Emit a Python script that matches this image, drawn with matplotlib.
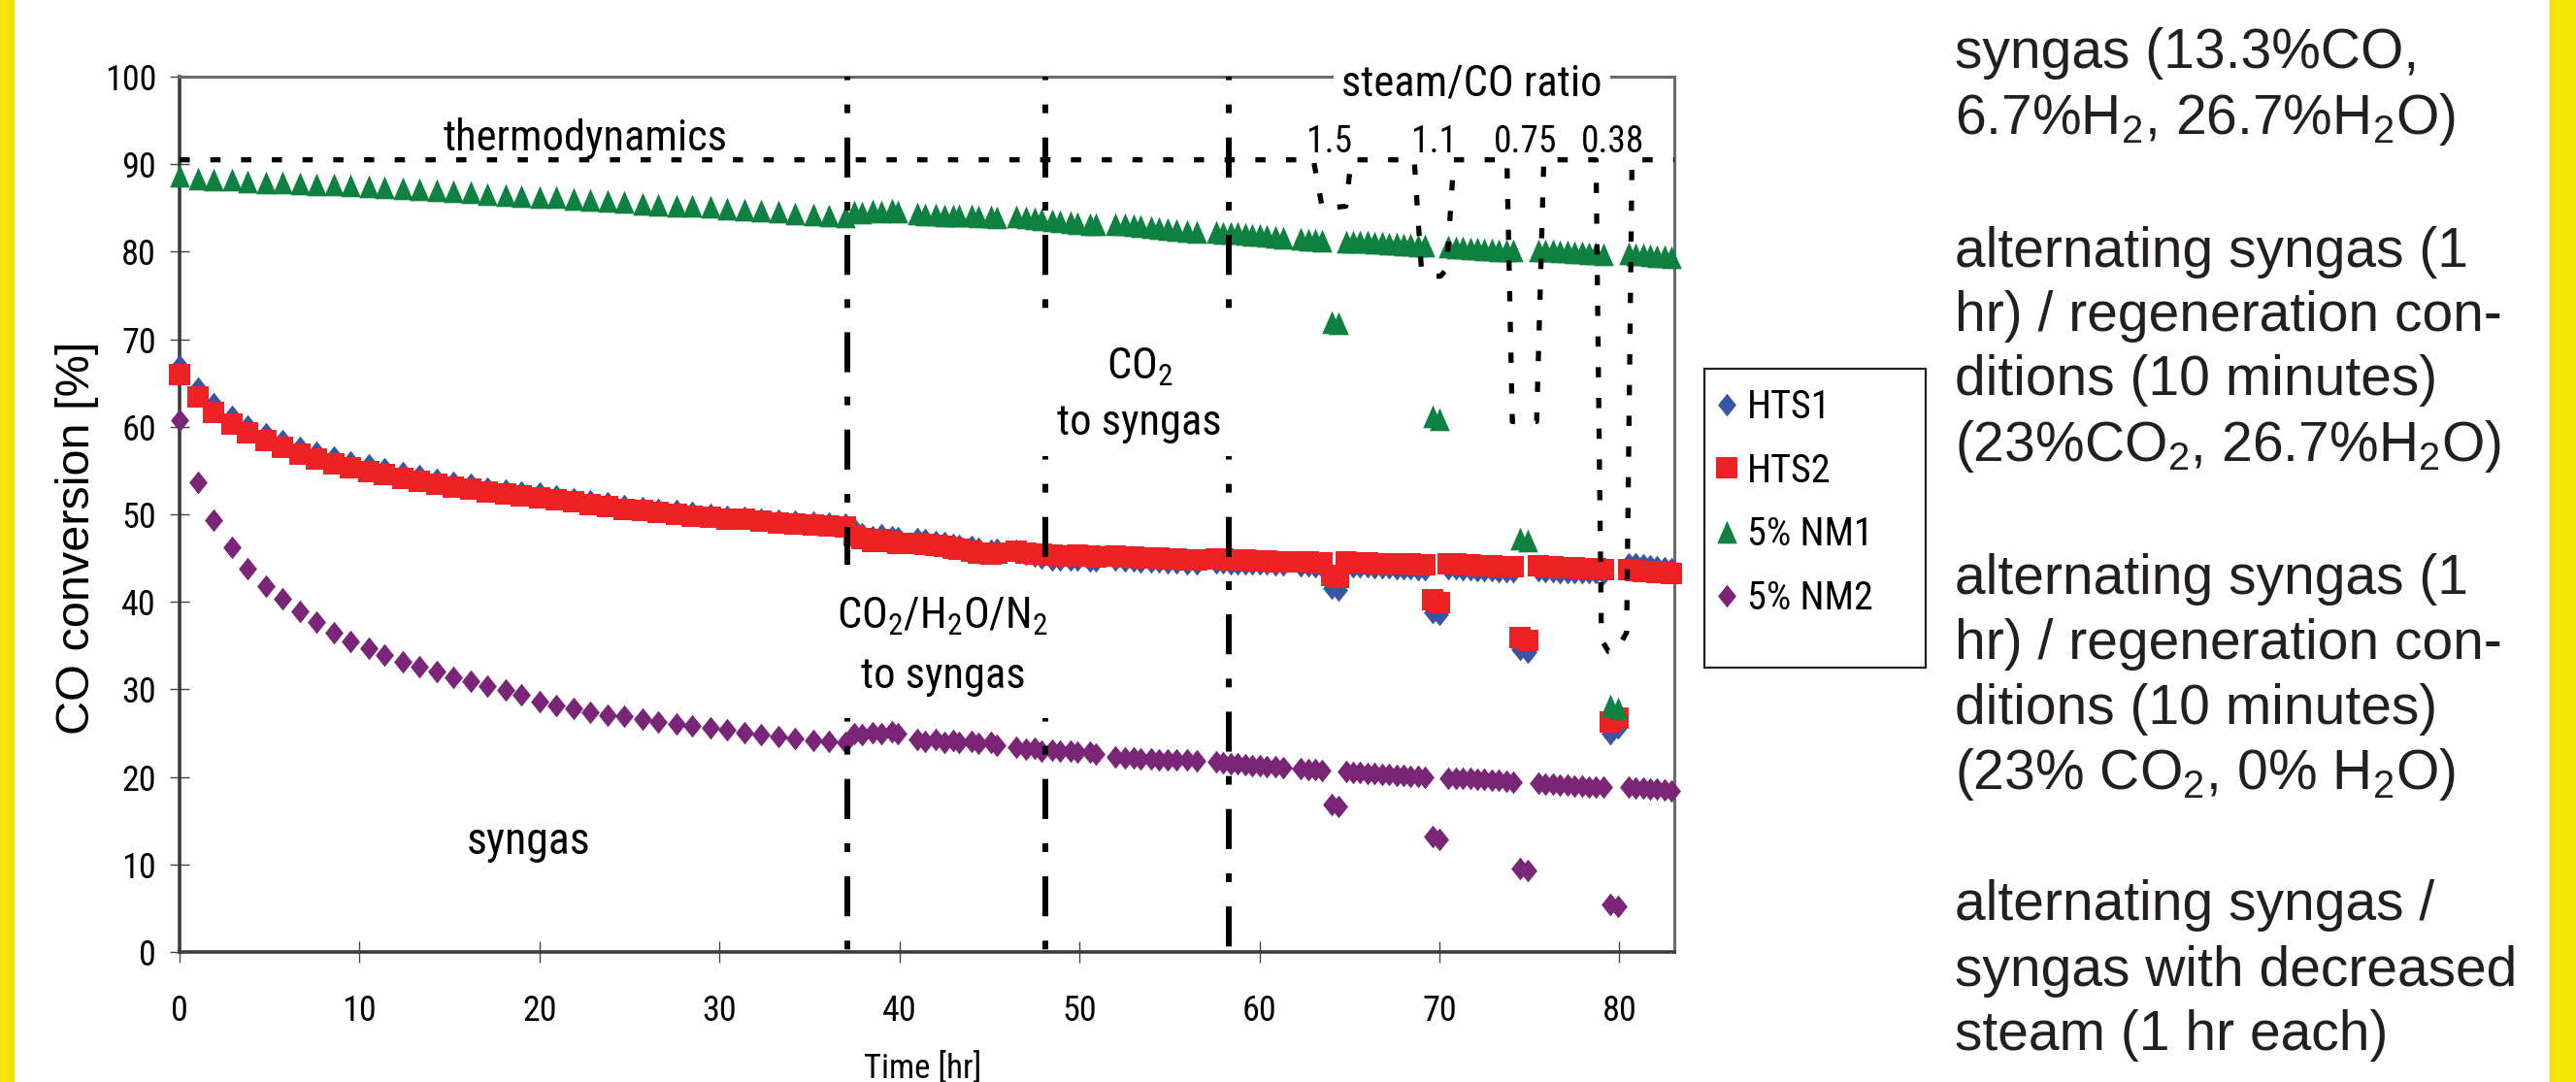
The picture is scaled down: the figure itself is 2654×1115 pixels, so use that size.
import matplotlib
matplotlib.use("Agg")
import matplotlib.pyplot as plt
from matplotlib import font_manager
from matplotlib.patches import Rectangle

W, H = 2654, 1115
YELLOW = "#F2E400"

_have = {f.name for f in font_manager.fontManager.ttflist}
NARROW = [f for f in ["Liberation Sans Narrow", "Arial Narrow", "Roboto Condensed",
                      "PT Sans Narrow", "Archivo Narrow"] if f in _have][:1] + ["DejaVu Sans"]

# ---- data ----
time_h = [
    0.0, 1.0, 1.9, 2.9, 3.8, 4.8, 5.7, 6.7, 7.6, 8.6, 9.5, 10.5, 11.4, 12.4, 13.3, 14.3,
    15.2, 16.2, 17.1, 18.1, 19.0, 20.0, 20.9, 21.9, 22.8, 23.8, 24.7, 25.7, 26.6, 27.6,
    28.5, 29.5, 30.4, 31.4, 32.3, 33.3, 34.2, 35.2, 36.1, 37.0,
    37.5, 37.9, 38.5, 39.0, 39.6, 39.9,
    41.0, 41.4, 42.0, 42.5, 43.0, 43.3, 44.0, 44.4, 45.1, 45.4,
    46.5, 47.0, 47.5, 47.9, 48.5, 48.9, 49.5, 49.9, 50.6, 50.9,
    52.0, 52.5, 53.0, 53.4, 54.0, 54.4, 54.9, 55.4, 56.0, 56.5,
    57.6, 58.0, 58.4, 58.8, 59.2, 59.6, 60.0, 60.4, 60.9, 61.3,
    62.3, 62.7, 63.1, 63.5,
    64.8, 65.2, 65.6, 66.0, 66.4, 66.8, 67.2, 67.6, 68.0, 68.4, 68.8, 69.2,
    70.5, 70.9, 71.3, 71.7, 72.1, 72.5, 72.9, 73.3, 73.7, 74.1,
    75.5, 75.9, 76.3, 76.7, 77.1, 77.5, 77.9, 78.3, 78.7, 79.1,
    80.5, 80.9, 81.3, 81.7, 82.1, 82.5, 82.9,
]

hts1 = [
    67.0, 64.4, 62.6, 61.2, 60.1, 59.2, 58.4, 57.7, 57.1, 56.5, 56.0, 55.6, 55.2, 54.8, 54.4, 54.0,
    53.7, 53.4, 53.0, 52.8, 52.6, 52.4, 52.1, 51.8, 51.5, 51.3, 51.0, 50.8, 50.6, 50.4,
    50.2, 50.0, 49.8, 49.7, 49.5, 49.3, 49.2, 49.1, 49.0, 48.9,
    48.3, 47.8, 47.5, 47.7, 47.5, 47.3,
    47.2, 47.1, 46.9, 46.8, 46.6, 46.5, 46.3, 46.1, 45.9, 46.0,
    45.9, 45.5, 45.2, 45.0, 44.8, 44.8, 44.8, 44.8, 44.7, 44.7,
    44.8, 44.7, 44.7, 44.6, 44.6, 44.6, 44.5, 44.5, 44.4, 44.4,
    44.5, 44.5, 44.4, 44.4, 44.4, 44.3, 44.3, 44.3, 44.2, 44.2,
    44.1, 44.1, 44.0, 44.0,
    44.1, 44.0, 44.0, 44.0, 43.9, 43.9, 43.9, 43.8, 43.8, 43.8, 43.7, 43.7,
    43.8, 43.8, 43.7, 43.7, 43.6, 43.6, 43.6, 43.5, 43.5, 43.5,
    43.6, 43.5, 43.5, 43.4, 43.4, 43.4, 43.3, 43.3, 43.3, 43.2,
    44.4, 44.3, 44.2, 44.1, 44.0, 43.9, 43.8,
]

hts2 = [
    66.0, 63.4, 61.6, 60.3, 59.3, 58.4, 57.7, 56.9, 56.3, 55.8, 55.3, 54.9, 54.5, 54.1, 53.8, 53.4,
    53.1, 52.9, 52.5, 52.3, 52.1, 51.9, 51.7, 51.4, 51.1, 50.9, 50.6, 50.4, 50.2, 50.0,
    49.8, 49.7, 49.5, 49.4, 49.2, 49.0, 48.9, 48.8, 48.7, 48.6,
    47.6, 47.2, 46.9, 47.1, 46.9, 46.7,
    46.7, 46.6, 46.4, 46.3, 46.1, 46.0, 45.8, 45.6, 45.4, 45.6,
    45.8, 45.6, 45.5, 45.4, 45.3, 45.2, 45.2, 45.3, 45.2, 45.1,
    45.2, 45.1, 45.1, 45.0, 45.0, 45.0, 44.9, 44.9, 44.8, 44.8,
    44.9, 44.9, 44.8, 44.8, 44.8, 44.7, 44.7, 44.7, 44.6, 44.6,
    44.6, 44.6, 44.5, 44.5,
    44.6, 44.5, 44.5, 44.5, 44.4, 44.4, 44.4, 44.3, 44.3, 44.3, 44.2, 44.2,
    44.3, 44.3, 44.2, 44.2, 44.1, 44.1, 44.1, 44.0, 44.0, 44.0,
    44.1, 44.0, 44.0, 43.9, 43.9, 43.9, 43.8, 43.8, 43.8, 43.7,
    43.7, 43.6, 43.5, 43.5, 43.4, 43.3, 43.2,
]

nm1 = [
    88.7, 88.4, 88.3, 88.2, 88.0, 87.9, 87.9, 87.8, 87.7, 87.7, 87.6, 87.5, 87.4, 87.3, 87.1, 87.0,
    86.9, 86.8, 86.6, 86.5, 86.4, 86.3, 86.2, 86.0, 85.9, 85.8, 85.7, 85.5, 85.4, 85.3,
    85.2, 85.1, 84.9, 84.8, 84.7, 84.6, 84.4, 84.3, 84.2, 84.0,
    84.6, 84.5, 84.7, 84.6, 84.8, 84.6,
    84.4, 84.3, 84.3, 84.2, 84.2, 84.1, 84.1, 84.0, 84.0, 83.9,
    84.0, 83.9, 83.8, 83.7, 83.6, 83.5, 83.4, 83.3, 83.2, 83.1,
    83.2, 83.1, 83.0, 82.9, 82.8, 82.7, 82.6, 82.5, 82.4, 82.3,
    82.3, 82.2, 82.2, 82.1, 82.0, 81.9, 81.9, 81.8, 81.7, 81.6,
    81.5, 81.4, 81.4, 81.3,
    81.2, 81.2, 81.1, 81.1, 81.0, 81.0, 80.9, 80.9, 80.8, 80.8, 80.7, 80.7,
    80.6, 80.5, 80.5, 80.4, 80.4, 80.3, 80.3, 80.2, 80.2, 80.1,
    80.2, 80.1, 80.1, 80.0, 80.0, 79.9, 79.9, 79.8, 79.8, 79.7,
    79.8, 79.7, 79.7, 79.6, 79.5, 79.5, 79.4,
]

nm2 = [
    60.7, 53.7, 49.3, 46.2, 43.8, 41.8, 40.3, 38.9, 37.7, 36.5, 35.5, 34.7, 33.9, 33.2, 32.6, 32.0,
    31.4, 30.9, 30.4, 29.9, 29.4, 28.6, 28.2, 27.8, 27.4, 27.1, 26.9, 26.6, 26.3, 26.0,
    25.8, 25.6, 25.4, 25.1, 24.8, 24.6, 24.4, 24.2, 24.1, 24.0,
    25.0, 24.8, 25.1, 24.9, 25.2, 25.0,
    24.3, 24.1, 24.3, 24.0, 24.2, 23.9, 24.1, 23.8, 23.9, 23.6,
    23.4, 23.2, 23.3, 23.0, 23.1, 22.9, 23.0, 22.8, 22.8, 22.6,
    22.3, 22.2, 22.2, 22.1, 22.1, 22.0, 22.0, 21.9, 21.9, 21.8,
    21.7, 21.6, 21.5, 21.5, 21.4, 21.3, 21.3, 21.2, 21.2, 21.1,
    20.9, 20.8, 20.8, 20.7,
    20.6, 20.5, 20.5, 20.4, 20.4, 20.3, 20.3, 20.2, 20.2, 20.1, 20.1, 20.0,
    19.9, 19.9, 19.8, 19.8, 19.7, 19.7, 19.6, 19.6, 19.5, 19.4,
    19.3, 19.2, 19.2, 19.1, 19.1, 19.0, 19.0, 18.9, 18.9, 18.8,
    18.8, 18.7, 18.7, 18.6, 18.6, 18.5, 18.4,
]

# low points during the decreased-steam hours
time_low = [64.0, 64.4, 69.6, 70.0, 74.5, 74.9, 79.5, 79.9]
hts1_low = [41.6, 41.3, 38.8, 38.6, 34.6, 34.3, 25.0, 25.6]
hts2_low = [43.0, 42.8, 40.2, 39.9, 35.9, 35.6, 26.3, 26.7]
nm1_low = [72.0, 71.8, 61.2, 60.9, 47.2, 47.0, 28.2, 27.8]
nm2_low = [16.8, 16.6, 13.2, 12.9, 9.5, 9.3, 5.4, 5.2]

series_names = ["HTS1", "HTS2", "5% NM1", "5% NM2"]
series_colors = ["#3A55A4", "#EE2224", "#0E8040", "#7B2579"]

# thermodynamic limit (dotted), with dips for each steam/CO ratio
thermo_x = [0, 63.0, 63.5, 64.8, 65.1, 68.6, 69.0, 69.4, 70.05, 70.4, 70.8,
            73.75, 74.05, 75.4, 75.8, 78.7, 79.0, 79.4, 79.8, 80.4, 80.7, 83.05]
thermo_y = [90.5, 90.5, 84.9, 85.2, 90.5, 90.5, 78.0, 77.2, 77.2, 78.0, 90.5,
            90.5, 60.6, 60.6, 90.5, 90.5, 35.7, 34.3, 34.3, 36.5, 90.5, 90.5]
ratio_labels = ["1.5", "1.1", "0.75", "0.38"]
ratio_x = [63.9, 69.7, 74.8, 79.65]

# phase boundaries (dash-dot), with the spans where they are drawn
phase_x = [37.1, 48.1, 58.3]
phase_spans = [[(26.7, 0), (100, 44.2)],
               [(26.7, 0), (56.7, 44.5), (100, 71.0)],
               [(56.7, 0), (100, 71.0)]]

notes = [
    ("syngas (13.3%CO,", 70),
    ("6.7%H$_\\mathregular{2}$, 26.7%H$_\\mathregular{2}$O)", 138),
    ("alternating syngas (1", 275),
    ("hr) / regeneration con-", 341),
    ("ditions (10 minutes)", 407),
    ("(23%CO$_\\mathregular{2}$, 26.7%H$_\\mathregular{2}$O)", 475),
    ("alternating syngas (1", 612),
    ("hr) / regeneration con-", 679),
    ("ditions (10 minutes)", 746),
    ("(23% CO$_\\mathregular{2}$, 0% H$_\\mathregular{2}$O)", 813),
    ("alternating syngas /", 948),
    ("syngas with decreased", 1016),
    ("steam (1 hr each)", 1082),
]

# ---- figure ----
fig = plt.figure(figsize=(W / 100, H / 100), dpi=100)
fig.patches.append(Rectangle((0, 0), 14 / W, 1, transform=fig.transFigure,
                             color=YELLOW, zorder=-2))
fig.patches.append(Rectangle((2627 / W, 0), 1, 1, transform=fig.transFigure,
                             color=YELLOW, zorder=-2))

ax = fig.add_axes([185 / W, 1 - 981 / H, (1725 - 185) / W, (981 - 79) / H])

diamond = [(0, 1), (0.8, 0), (0, -1), (-0.8, 0), (0, 1)]
triangle = [(0, 1), (0.87, -1), (-0.87, -1), (0, 1)]
markers = [diamond, "s", triangle, diamond]
sizes = [17, 15.5, 17, 17]
values = [hts1 + hts1_low, hts2 + hts2_low, nm1 + nm1_low, nm2 + nm2_low]

handles = []
for name, col, mk, ms, vals in zip(series_names, series_colors, markers, sizes, values):
    h, = ax.plot(time_h + time_low, vals, linestyle="none", marker=mk, ms=ms,
                 color=col, mew=0, label=name, zorder=3, clip_on=False)
    handles.append(h)

ax.plot(thermo_x, thermo_y, color="black", lw=3.8,
        linestyle=(0, (2.0, 4.0)), dash_capstyle="butt", zorder=4, clip_on=False)

for x, spans in zip(phase_x, phase_spans):
    for y_top, y_bot in spans:
        ax.plot([x, x], [y_top, y_bot], color="black", lw=4.3,
                linestyle=(6.3, (6.9, 4.2, 1.5, 4.2)), dash_capstyle="butt",
                zorder=4, clip_on=False)

ax.set_xlim(0, 83.05)
ax.set_ylim(0, 100)
ax.set_xticks(range(0, 81, 10))
ax.set_yticks(range(0, 101, 10))

for side in ["left", "bottom"]:
    ax.spines[side].set_linewidth(2.6)
    ax.spines[side].set_color("#3c3c3c")
for side in ["top", "right"]:
    ax.spines[side].set_linewidth(2.2)
    ax.spines[side].set_color("#6a6a6a")

ax.tick_params(axis="y", direction="inout", length=14.5, width=1.0, color="#444444",
               pad=10, labelsize=26)
ax.tick_params(axis="x", direction="inout", length=16, width=1.0, color="#444444",
               pad=23, labelsize=26)
for lab in ax.get_xticklabels() + ax.get_yticklabels():
    lab.set_family(NARROW)

ax.set_xlabel("Time [hr]", family=NARROW, fontsize=25)
ax.xaxis.set_label_coords(0.497, -0.114)
ax.set_ylabel("CO conversion [%]", family="Liberation Sans", fontsize=35)
ax.yaxis.set_label_coords(-0.0604, 0.473)
ax.yaxis.label.set_verticalalignment("baseline")

txt = dict(family=NARROW, ha="center", va="baseline", zorder=6)
ax.text(22.55, 91.55, "thermodynamics", fontsize=32, **txt)
ax.text(19.4, 11.2, "syngas", fontsize=33, **txt)
ax.text(53.35, 65.4, "CO$_\\mathregular{2}$", fontsize=32, **txt)
ax.text(53.3, 59.1, "to syngas", fontsize=32, **txt)
ax.text(42.4, 36.9, "CO$_\\mathregular{2}$/H$_\\mathregular{2}$O/N$_\\mathregular{2}$",
        fontsize=32, **txt)
ax.text(42.45, 30.2, "to syngas", fontsize=32, **txt)
ax.text(71.8, 97.8, "steam/CO ratio", fontsize=32, clip_on=False,
        bbox=dict(facecolor="white", edgecolor="none", pad=6), **txt)
for lab, x in zip(ratio_labels, ratio_x):
    ax.text(x, 91.3, lab, fontsize=27, **txt)

# legend: box drawn under the axes layer, entries on top
fig.patches.append(Rectangle((1756 / W, 1 - 688 / H), (1984 - 1756) / W, (688 - 380) / H,
                             transform=fig.transFigure, facecolor="white",
                             edgecolor="#222222", lw=1.6, zorder=-1))
leg = fig.legend(handles=handles, loc="upper left",
                 bbox_to_anchor=(1764 / W, 1 - 400 / H), bbox_transform=fig.transFigure,
                 frameon=False, borderpad=0, borderaxespad=0, handlelength=0.75,
                 handletextpad=0.15, labelspacing=0.66, prop=dict(family=NARROW, size=29))
leg.set_zorder(7)

for text, base in notes:
    fig.text(2014 / W, 1 - base / H, text, family="Liberation Sans", fontsize=41,
             ha="left", va="baseline", color="#231f20")

fig.savefig("out.png", dpi=100, facecolor="white")
